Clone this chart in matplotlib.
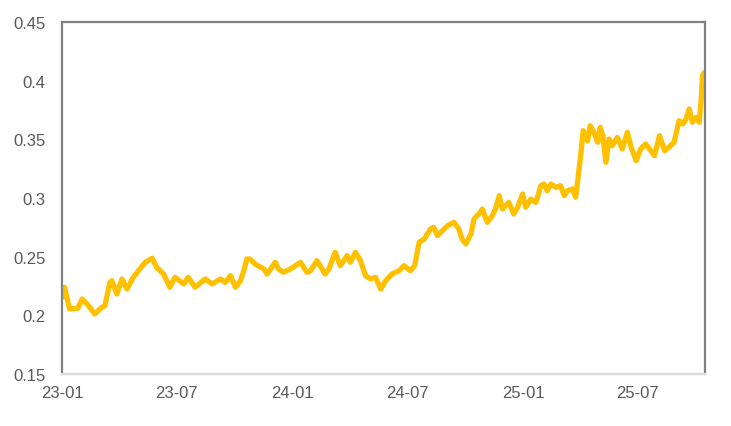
import numpy as np
import pandas as pd
import matplotlib
matplotlib.use("Agg")
import matplotlib.pyplot as plt
import matplotlib.dates as mdates
from matplotlib.ticker import FuncFormatter

plt.rcParams['font.family'] = ['Liberation Sans', 'DejaVu Sans']

# values (date, level)
dates = [
    "2023-01-03", "2023-01-05", "2023-01-13", "2023-01-26", "2023-02-02", "2023-02-12",
    "2023-02-22", "2023-03-05", "2023-03-10", "2023-03-18", "2023-03-21", "2023-03-29",
    "2023-04-06", "2023-04-14", "2023-04-24", "2023-05-02", "2023-05-13", "2023-05-24",
    "2023-05-31", "2023-06-11", "2023-06-21", "2023-06-29", "2023-07-13", "2023-07-20",
    "2023-07-31", "2023-08-16", "2023-08-27", "2023-09-09", "2023-09-17", "2023-09-25",
    "2023-10-03", "2023-10-11", "2023-10-16", "2023-10-21", "2023-10-26", "2023-11-03",
    "2023-11-17", "2023-11-22", "2023-12-05", "2023-12-10", "2023-12-18", "2023-12-29",
    "2024-01-14", "2024-01-24", "2024-01-30", "2024-02-09", "2024-02-22", "2024-02-28",
    "2024-03-09", "2024-03-17", "2024-03-28", "2024-04-02", "2024-04-10", "2024-04-18",
    "2024-04-26", "2024-05-04", "2024-05-12", "2024-05-20", "2024-05-28", "2024-06-07",
    "2024-06-18", "2024-06-26", "2024-07-06", "2024-07-13", "2024-07-20", "2024-07-28",
    "2024-08-07", "2024-08-12", "2024-08-18", "2024-08-26", "2024-09-03", "2024-09-13",
    "2024-09-21", "2024-09-26", "2024-10-02", "2024-10-10", "2024-10-15", "2024-10-25",
    "2024-10-28", "2024-11-05", "2024-11-13", "2024-11-18", "2024-11-24", "2024-11-29",
    "2024-12-04", "2024-12-09", "2024-12-17", "2024-12-23", "2024-12-31", "2025-01-05",
    "2025-01-13", "2025-01-21", "2025-01-29", "2025-02-03", "2025-02-08", "2025-02-14",
    "2025-02-22", "2025-03-01", "2025-03-07", "2025-03-12", "2025-03-20", "2025-03-25",
    "2025-03-28", "2025-04-02", "2025-04-06", "2025-04-13", "2025-04-17", "2025-04-23",
    "2025-04-29", "2025-05-03", "2025-05-07", "2025-05-12", "2025-05-17", "2025-05-22",
    "2025-05-30", "2025-06-07", "2025-06-15", "2025-06-21", "2025-06-29", "2025-07-06",
    "2025-07-14", "2025-07-20", "2025-07-28", "2025-08-05", "2025-08-13", "2025-08-20",
    "2025-08-28", "2025-09-05", "2025-09-11", "2025-09-16", "2025-09-21", "2025-09-26",
    "2025-10-02", "2025-10-07", "2025-10-10", "2025-10-12", "2025-10-15",
]
values = [
    0.2156, 0.2239, 0.2054, 0.2060, 0.2139, 0.2082,
    0.2011, 0.2068, 0.2082, 0.2281, 0.2295, 0.2182,
    0.2310, 0.2224, 0.2324, 0.2380, 0.2452, 0.2486,
    0.2409, 0.2352, 0.2239, 0.2324, 0.2267, 0.2324,
    0.2239, 0.2310, 0.2267, 0.2310, 0.2281, 0.2338,
    0.2239, 0.2295, 0.2380, 0.2480, 0.2480, 0.2437,
    0.2395, 0.2352, 0.2452, 0.2395, 0.2367, 0.2395,
    0.2452, 0.2367, 0.2380, 0.2466, 0.2352, 0.2395,
    0.2537, 0.2423, 0.2509, 0.2452, 0.2537, 0.2466,
    0.2338, 0.2310, 0.2324, 0.2224, 0.2295, 0.2352,
    0.2380, 0.2423, 0.2380, 0.2423, 0.2622, 0.2650,
    0.2736, 0.2750, 0.2679, 0.2721, 0.2764, 0.2793,
    0.2736, 0.2650, 0.2608, 0.2693, 0.2821, 0.2878,
    0.2906, 0.2793, 0.2849, 0.2906, 0.3020, 0.2906,
    0.2935, 0.2963, 0.2864, 0.2920, 0.3034, 0.2921,
    0.2991, 0.2963, 0.3105, 0.3119, 0.3062, 0.3119,
    0.3091, 0.3105, 0.3020, 0.3062, 0.3077, 0.3006,
    0.3134, 0.3361, 0.3574, 0.3488, 0.3616, 0.3560,
    0.3475, 0.3602, 0.3531, 0.3304, 0.3503, 0.3446,
    0.3517, 0.3418, 0.3560, 0.3432, 0.3318, 0.3418,
    0.3460, 0.3418, 0.3361, 0.3531, 0.3403, 0.3432,
    0.3475, 0.3659, 0.3631, 0.3673, 0.3759, 0.3645,
    0.3688, 0.3645, 0.3844, 0.4042, 0.4070,
]
x_start = "2023-01-01"
x_end = "2025-10-16"
y_ticks = [0.15, 0.2, 0.25, 0.3, 0.35, 0.4, 0.45]

fig = plt.figure(figsize=(7.31, 4.27), dpi=100)
ax = fig.add_axes([0.0848, 0.1218, 0.8796, 0.8243])

ax.plot(pd.to_datetime(dates), values, color='#FFC000', lw=3.8,
        solid_joinstyle='round', solid_capstyle='round')

ax.set_xlim(pd.Timestamp(x_start), pd.Timestamp(x_end))
ax.set_ylim(0.15, 0.45)
ax.set_yticks(y_ticks)
ax.yaxis.set_major_formatter(FuncFormatter(lambda v, p: f"{v:g}"))
ax.xaxis.set_major_locator(mdates.MonthLocator(bymonth=[1, 7]))
ax.xaxis.set_major_formatter(mdates.DateFormatter('%y-%m'))

ax.tick_params(axis='both', length=0, labelsize=12, labelcolor='#595959')
ax.tick_params(axis='y', pad=12)
ax.tick_params(axis='x', pad=8)

for s in ['left', 'top', 'right']:
    ax.spines[s].set_color('#808080')
    ax.spines[s].set_linewidth(1.6)
ax.spines['bottom'].set_color('#D9D9D9')
ax.spines['bottom'].set_linewidth(1.6)

fig.savefig('out.png', dpi=100)
